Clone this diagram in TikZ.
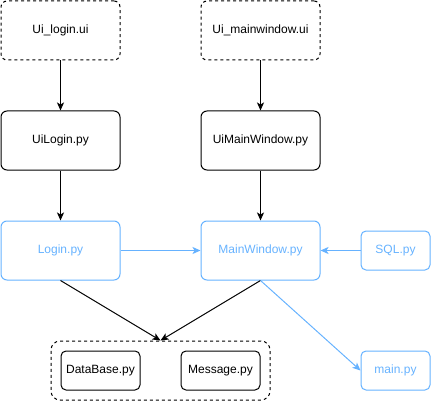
\documentclass[tikz,border=0pt]{standalone}
\usepackage{fontspec}
\setmainfont{Liberation Sans}
\usepackage{tikz}
\usetikzlibrary{positioning}
\usetikzlibrary{arrows.meta}
\usetikzlibrary{fit,calc}
\definecolor{myblue}{RGB}{102,178,255}

\begin{document}
\begin{tikzpicture}[x=1pt,y=-1pt]
	\useasboundingbox (0,0) rectangle (431,401);
	\begin{scope}[every node/.style={draw,rounded corners=6pt,line width=1pt,inner sep=0pt,
	              minimum width=119pt,minimum height=59pt,font=\fontsize{12pt}{14pt}\selectfont}]
	    \node (A) [dash pattern=on 3pt off 3pt] at (60.5,30.5) {Ui\_login.ui};
	    \node (B) [dash pattern=on 3pt off 3pt] at (260.5,30.5) {Ui\_mainwindow.ui};
	    \node (C) at (60.5,140.5) {UiLogin.py};
	    \node (D) at (260.5,140.5) {UiMainWindow.py};
	    \node (E) [draw=myblue,text=myblue] at (60.5,250.5) {Login.py};
	    \node (F) [draw=myblue,text=myblue] at (260.5,250.5) {MainWindow.py};
	    \node (S) [draw=myblue,text=myblue,minimum width=69pt,minimum height=39pt,rounded corners=5pt] at (395.5,250.5) {SQL.py};
	    \node (M) [draw=myblue,text=myblue,minimum width=69pt,minimum height=39pt,rounded corners=5pt] at (395.5,370.5) {main.py};
	    \node (DB) [minimum width=79pt,minimum height=39pt,rounded corners=5pt] at (100.5,370.5) {DataBase.py};
	    \node (MS) [minimum width=79pt,minimum height=39pt,rounded corners=5pt] at (220.5,370.5) {Message.py};
	    \node (G) [dash pattern=on 3pt off 3pt,rounded corners=9pt,minimum width=219pt,minimum height=59pt] at (160.5,370.5) {};
	\end{scope}

	\begin{scope}[>={Stealth[length=8pt,width=7pt,inset=2pt]},
	              every edge/.style={draw=black,line width=1pt}]
    	\path [->] (A) edge (C);
    	\path [->] (B) edge (D);
    	\path [->] (C) edge (E);
    	\path [->] (D) edge (F);
    	\path [->] (E.east) edge[myblue] (F.west);
    	\path [->] (S.west) edge[myblue] (F.east);
    	\path [->] (E.south) edge (G.north);
    	\path [->] (F.south) edge (G.north);
    	\path [->] (F.south) edge[myblue] (M.west);
	\end{scope}
\end{tikzpicture}
\end{document}
